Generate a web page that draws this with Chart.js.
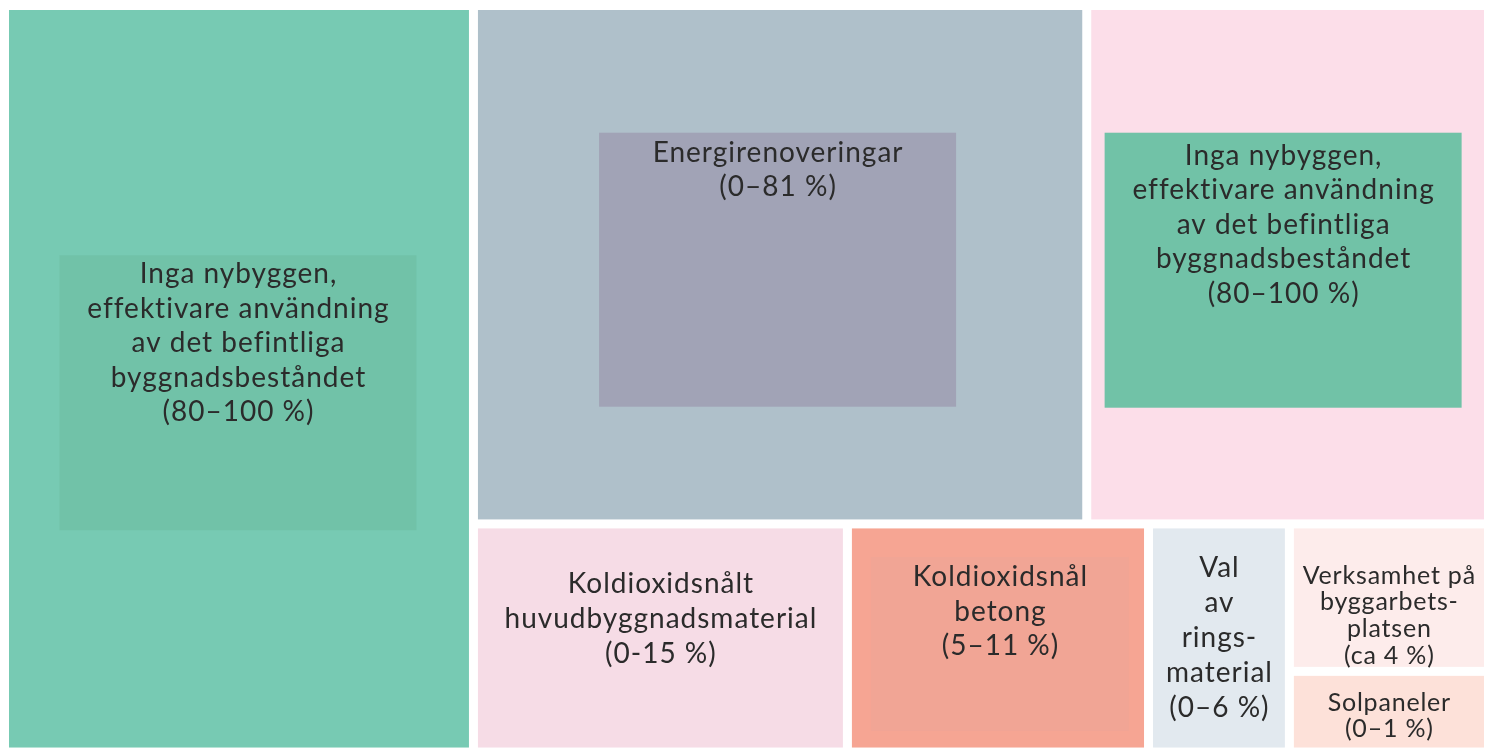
<!DOCTYPE html>
<html><head><meta charset="utf-8">
<script src="https://cdn.jsdelivr.net/npm/chart.js@4/dist/chart.umd.min.js"></script>
<style>html,body{margin:0;padding:0;background:#fff;overflow:hidden}</style>
</head><body><canvas id="c" width="1494" height="748"></canvas>
<script>
// ---- data ----
const categories = [
  'Inga nybyggen,\neffektivare användning\nav det befintliga\nbyggnadsbeståndet',
  'Energirenoveringar',
  'Inga nybyggen,\neffektivare användning\nav det befintliga\nbyggnadsbeståndet',
  'Koldioxidsnålt\nhuvudbyggnadsmaterial',
  'Koldioxidsnål\nbetong',
  'Val\nav\nrings-\nmaterial',
  'Verksamhet på\nbyggarbets-\nplatsen',
  'Solpaneler'
];
const rangeLabels = ['80–100 %', '0–81 %', '80–100 %', '0-15 %', '5–11 %', '0–6 %', 'ca 4 %', '0–1 %'];
const areaShares = [31.6, 28.7, 18.8, 7.7, 6.2, 2.9, 2.65, 1.45];

// treemap grouping (h = split left-to-right, v = split top-to-bottom)
const layoutTree = {dir: 'h', children: [0, {dir: 'v', children: [
  {dir: 'h', children: [1, 2]},
  {dir: 'h', children: [3, 4, 5, {dir: 'v', children: [6, 7]}]}
]}]};

// ---- styles ----
const cellColors = ['#77cab3', '#afc0ca', '#fcdee9', '#f6dce6', '#f6a593', '#e2e9ef', '#fdeceb', '#fde1d9'];
const innerBoxes = {
  0: {w: 357, h: 275, dx: -1, dy: 14, color: '#71c2a8'},
  1: {w: 357, h: 274, dx: -2.5, dy: 5, color: '#a1a3b6'},
  2: {w: 357, h: 275, dx: -4.5, dy: 5.5, color: '#71c2a7'},
  4: {w: 258, h: 174, dx: 2, dy: 6, color: '#f1a595'}
};
const textStyle = {
  0: {size: 28, ls: 1, lh: 34.5, top: 19},
  1: {size: 28, ls: 1, lh: 34.5, top: 20},
  2: {size: 28, ls: 1, lh: 34.5, top: 23},
  3: {size: 28, ls: 1, lh: 35, dy: -19},
  4: {size: 28, ls: 1, lh: 34.5, top: 20},
  5: {size: 28, ls: 1, lh: 35, dy: 0},
  6: {size: 25, ls: 0.8, lh: 26.7, dy: 18},
  7: {size: 25, ls: 0.8, lh: 26, dy: 4}
};
const GAP = 9;

function total(node) {
  return typeof node === 'number' ? areaShares[node] : node.children.reduce((s, c) => s + total(c), 0);
}
function layout(node, x0, y0, x1, y1, out) {
  if (typeof node === 'number') { out[node] = {x0, y0, x1, y1}; return out; }
  const t = total(node);
  let pos = node.dir === 'h' ? x0 : y0;
  node.children.forEach(c => {
    const f = total(c) / t;
    if (node.dir === 'h') { const w = (x1 - x0) * f; layout(c, pos, y0, pos + w, y1, out); pos += w; }
    else { const h = (y1 - y0) * f; layout(c, x0, pos, x1, pos + h, out); pos += h; }
  });
  return out;
}
const cells = layout(layoutTree, 0, 0, 100, 100, []);

const treemapPlugin = {
  id: 'treemap',
  afterDatasetsDraw(chart) {
    const {ctx, scales: {x, y}} = chart;
    ctx.save();
    cells.forEach((c, i) => {
      const l = x.getPixelForValue(c.x0) + GAP / 2, r = x.getPixelForValue(c.x1) - GAP / 2;
      const t = Math.min(y.getPixelForValue(c.y0), y.getPixelForValue(c.y1)) + GAP / 2;
      const b = Math.max(y.getPixelForValue(c.y0), y.getPixelForValue(c.y1)) - GAP / 2;
      ctx.fillStyle = cellColors[i];
      ctx.fillRect(l, t, r - l, b - t);
      const cx = (l + r) / 2, cy = (t + b) / 2;
      const lines = categories[i].split('\n').concat(['(' + rangeLabels[i] + ')']);
      const ts = textStyle[i];
      let firstY;
      const box = innerBoxes[i];
      if (box) {
        const bx = cx + box.dx - box.w / 2, by = cy + box.dy - box.h / 2;
        ctx.fillStyle = box.color;
        ctx.fillRect(bx, by, box.w, box.h);
        firstY = by + ts.top;
      } else {
        firstY = cy + ts.dy - (lines.length - 1) * ts.lh / 2;
      }
      ctx.fillStyle = '#2b2b2b';
      ctx.font = `400 ${ts.size}px Lato, "Open Sans", sans-serif`;
      ctx.letterSpacing = ts.ls + 'px';
      ctx.textAlign = 'center';
      ctx.textBaseline = 'middle';
      const tx = (box ? cx + box.dx : cx) + ts.ls / 2;
      lines.forEach((ln, k) => ctx.fillText(ln, tx, firstY + k * ts.lh));
    });
    ctx.restore();
  }
};

new Chart(document.getElementById('c'), {
  type: 'scatter',
  data: {datasets: [{data: cells.map(c => ({x: (c.x0 + c.x1) / 2, y: (c.y0 + c.y1) / 2})), pointRadius: 0}]},
  options: {
    responsive: false, animation: false, devicePixelRatio: 1,
    layout: {padding: {left: 4.5, right: 5.5, top: 5.5, bottom: 0}},
    scales: {
      x: {type: 'linear', min: 0, max: 100, display: false},
      y: {type: 'linear', min: 0, max: 99.46, reverse: true, display: false}
    },
    plugins: {legend: {display: false}, tooltip: {enabled: false}}
  },
  plugins: [treemapPlugin]
});
</script>
</body></html>
